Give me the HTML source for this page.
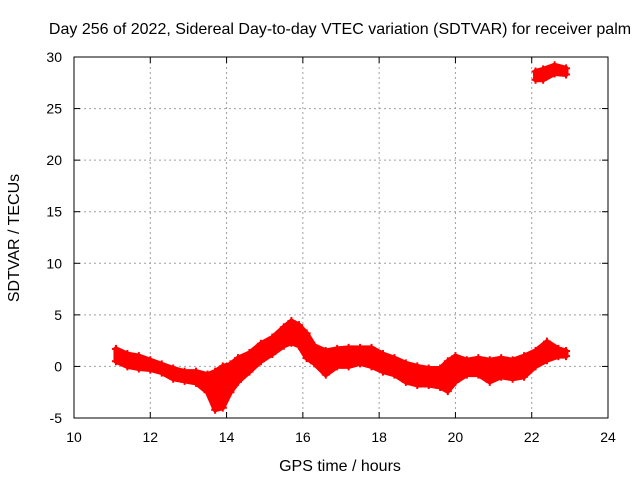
<!DOCTYPE html>
<html><head><meta charset="utf-8"><style>
body{margin:0;background:#fff}
svg text{font-family:"Liberation Sans",sans-serif;font-size:14px;fill:#000}
svg text.big{font-size:16px}
</style></head><body>
<svg id="c" width="640" height="480" viewBox="0 0 640 480">
<rect width="640" height="480" fill="#fff"/>
<text class="big" x="340" y="34" text-anchor="middle">Day 256 of 2022, Sidereal Day-to-day VTEC variation (SDTVAR) for receiver palm</text>
<text class="big" x="340" y="471" text-anchor="middle">GPS time / hours</text>
<text class="big" transform="translate(19,238) rotate(-90)" text-anchor="middle">SDTVAR / TECUs</text>
<g id="grid"></g><g id="data"></g>
<rect x="74" y="57" width="534" height="361" fill="none" stroke="#000" stroke-width="1"/>
<g id="ticks"></g>
</svg>
<script>
const xTicks=[10,12,14,16,18,20,22,24];
const yTicks=[-5,0,5,10,15,20,25,30];
const hours=[11.1,11.4,11.7,12.0,12.3,12.6,12.9,13.2,13.5,13.7,13.9,14.1,14.3,14.6,14.9,15.2,15.5,15.7,15.9,16.1,16.3,16.6,16.9,17.2,17.5,17.8,18.1,18.4,18.7,19.0,19.3,19.6,19.8,20.0,20.3,20.6,20.9,21.2,21.5,21.8,22.1,22.4,22.7,22.9];
const lows=[0.5,0.0,-0.2,-0.3,-0.6,-1.2,-1.4,-1.6,-2.5,-4.2,-4.0,-2.5,-1.5,-0.5,0.5,1.2,2.0,2.3,2.0,0.8,0.3,-0.8,0.0,0.0,0.3,0.0,-0.5,-0.8,-1.5,-1.8,-1.8,-2.0,-2.4,-1.5,-0.8,-0.8,-1.5,-1.0,-1.2,-1.0,0.0,0.6,1.0,1.0];
const highs=[1.7,1.2,1.0,0.6,0.2,-0.2,-0.5,-0.5,-0.8,-0.5,0.0,0.2,0.8,1.3,2.2,2.8,3.8,4.4,4.0,3.2,2.0,1.5,1.7,1.8,1.8,1.8,1.2,0.8,0.3,0.0,-0.2,-0.2,0.5,1.0,0.6,0.8,0.6,0.8,0.6,1.0,1.5,2.4,1.7,1.5];
const hoursUp=[22.1,22.3,22.6,22.9];
const lowsUp=[27.8,27.8,28.4,28.3];
const highsUp=[28.6,28.8,29.2,28.9];
const NS='http://www.w3.org/2000/svg';
const X=v=>74+(v-10)*534/14, Y=v=>418-(v+5)*361/35;
function mk(t,a,p){const e=document.createElementNS(NS,t);for(const k in a)e.setAttribute(k,a[k]);p.appendChild(e);return e;}
const g=document.getElementById('grid'),tk=document.getElementById('ticks'),d=document.getElementById('data');
xTicks.forEach(v=>{const x=X(v);
 if(v>10&&v<24){const l=mk('line',{x1:x,x2:x,y1:57,y2:418,stroke:'#a0a0a0','stroke-dasharray':'2,3'},g);}
 mk('line',{x1:x,x2:x,y1:418,y2:412,stroke:'#000'},tk);mk('line',{x1:x,x2:x,y1:57,y2:63,stroke:'#000'},tk);
 const t=mk('text',{x:x,y:442,'text-anchor':'middle'},tk);t.textContent=v;
 });
yTicks.forEach(v=>{const y=Y(v);
 if(v>-5&&v<30){const l=mk('line',{x1:74,x2:608,y1:y,y2:y,stroke:'#a0a0a0','stroke-dasharray':'2,3'},g);}
 mk('line',{x1:74,x2:80,y1:y,y2:y,stroke:'#000'},tk);mk('line',{x1:608,x2:602,y1:y,y2:y,stroke:'#000'},tk);
 const t=mk('text',{x:62,y:y+5,'text-anchor':'end'},tk);t.textContent=v;
 });
function band(hs,lo,hi,name){
 let pts=hs.map((h,i)=>X(h)+','+Y(hi[i]));
 for(let i=hs.length-1;i>=0;i--)pts.push(X(hs[i])+','+Y(lo[i]));
 const p=mk('polygon',{points:pts.join(' '),fill:'#f00',stroke:'#f00','stroke-width':5,'stroke-linejoin':'round'},d);
 
 hs.forEach((h,i)=>{[lo[i],hi[i]].forEach(v=>{const x=X(h),y=Y(v);
  const m=mk('path',{d:`M${x-4},${y}h8M${x},${y-4}v8`,stroke:'#f00','stroke-width':2},d);
  });});
}
band(hours,lows,highs,'sdtvar-series');
band(hoursUp,lowsUp,highsUp,'sdtvar-outlier-cluster');
</script>
</body></html>
